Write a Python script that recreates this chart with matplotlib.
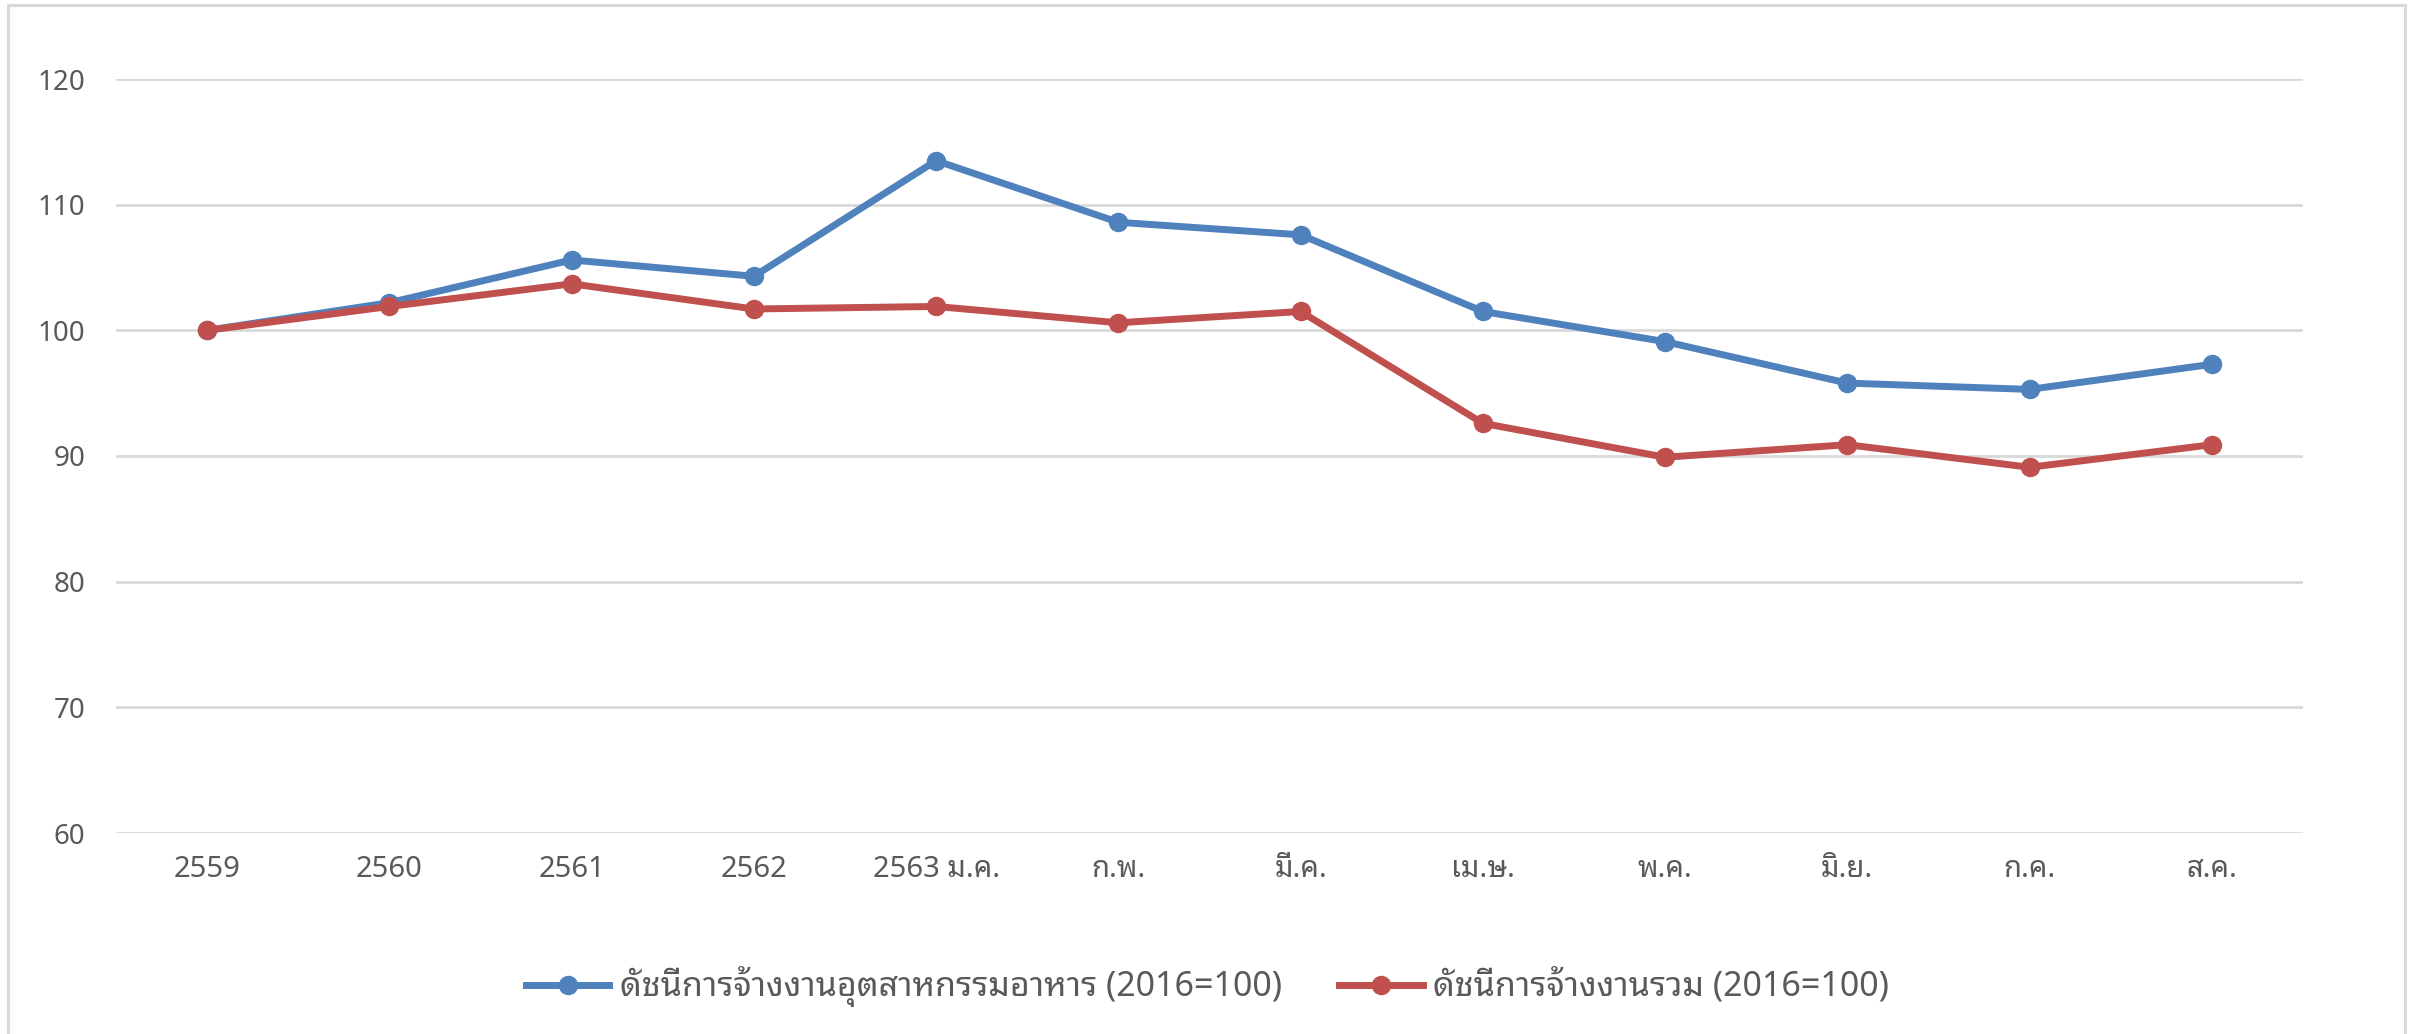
import matplotlib
matplotlib.use("Agg")
import matplotlib.pyplot as plt
from matplotlib.patches import Rectangle

plt.rcParams['font.family'] = ['Noto Sans', 'Noto Sans Thai Looped', 'DejaVu Sans']

categories = ["2559", "2560", "2561", "2562", "2563 ม.ค.", "ก.พ.", "มี.ค.",
              "เม.ษ.", "พ.ค.", "มิ.ย.", "ก.ค.", "ส.ค."]
food_index = [100.0, 102.2, 105.6, 104.3, 113.5, 108.6, 107.6,
              101.5, 99.1, 95.8, 95.3, 97.3]
total_index = [100.0, 101.9, 103.7, 101.7, 101.9, 100.6, 101.5,
               92.6, 89.9, 90.9, 89.1, 90.9]
series_names = ["ดัชนีการจ้างงานอุตสาหกรรมอาหาร (2016=100)",
                "ดัชนีการจ้างงานรวม (2016=100)"]
y_ticks = [60, 70, 80, 90, 100, 110, 120]

W, H = 2415, 1034
fig = plt.figure(figsize=(W / 100, H / 100), dpi=100)

# chart area border, runs off the bottom of the picture
fig.patches.append(Rectangle((8 / W, -0.05), (2405 - 8) / W, 1.05 - 5 / H,
                             transform=fig.transFigure, fill=False,
                             edgecolor="#d9d9d9", linewidth=2.2))

ax = fig.add_axes([116 / W, 1 - 833 / H, (2303 - 116) / W, (833 - 79) / H])
x = list(range(len(categories)))
ax.plot(x, food_index, color="#4f81bd", lw=5, marker="o", ms=13,
        label=series_names[0], solid_joinstyle="round", zorder=3)
ax.plot(x, total_index, color="#c0504d", lw=5, marker="o", ms=13,
        label=series_names[1], solid_joinstyle="round", zorder=3)

ax.set_xlim(-0.5, len(categories) - 0.5)
ax.set_ylim(60, 120)
ax.set_yticks(y_ticks)
ax.set_xticks(x)
ax.set_xticklabels(categories)
ax.grid(axis="y", color="#d9d9d9", lw=2)
ax.set_axisbelow(True)
for s in ax.spines.values():
    s.set_visible(False)
ax.tick_params(axis="both", length=0, labelcolor="#595959")
ax.tick_params(axis="y", pad=22, labelsize=20)
ax.tick_params(axis="x", pad=16, labelsize=21)

fig.legend(loc="center", bbox_to_anchor=(0.5, 1 - 987 / H), ncol=2,
           frameon=False, fontsize=24.5, handlelength=2.45, columnspacing=1.7,
           handletextpad=0.3, labelcolor="#595959")

fig.savefig("out.png")
